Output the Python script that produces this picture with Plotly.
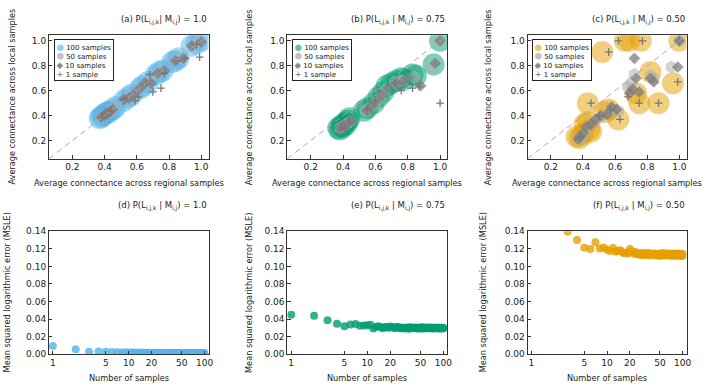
import plotly.graph_objects as go

W, H = 709, 390
FONT = "DejaVu Sans"
TXT = "#222222"

# ---------------- data: top row (local vs regional connectance) ----------------
a100_x = [0.37, 0.38, 0.39, 0.40, 0.41, 0.42, 0.43, 0.45, 0.47, 0.52, 0.55, 0.57, 0.62, 0.64, 0.67, 0.72, 0.74, 0.76, 0.82, 0.84, 0.86, 0.94, 0.97, 1.00]
a100_y = [0.38, 0.39, 0.40, 0.41, 0.42, 0.43, 0.43, 0.45, 0.47, 0.52, 0.55, 0.57, 0.62, 0.64, 0.67, 0.73, 0.75, 0.76, 0.83, 0.84, 0.86, 0.96, 0.98, 1.00]
a50_x = [0.38, 0.40, 0.42, 0.44, 0.46, 0.53, 0.56, 0.61, 0.65, 0.68, 0.73, 0.76, 0.83, 0.86, 0.95, 0.99]
a50_y = [0.39, 0.40, 0.42, 0.44, 0.46, 0.53, 0.56, 0.61, 0.65, 0.67, 0.74, 0.76, 0.84, 0.86, 0.96, 1.00]
a10_x = [0.38, 0.40, 0.41, 0.43, 0.45, 0.52, 0.55, 0.58, 0.62, 0.65, 0.69, 0.73, 0.77, 0.84, 0.89, 0.94, 1.00]
a10_y = [0.39, 0.40, 0.42, 0.43, 0.45, 0.53, 0.54, 0.57, 0.62, 0.66, 0.66, 0.74, 0.76, 0.84, 0.86, 0.96, 0.99]
a1_x = [0.38, 0.40, 0.42, 0.44, 0.52, 0.59, 0.61, 0.66, 0.68, 0.70, 0.75, 0.77, 0.85, 0.90, 0.97, 0.99]
a1_y = [0.38, 0.41, 0.40, 0.44, 0.53, 0.52, 0.55, 0.66, 0.73, 0.59, 0.62, 0.74, 0.84, 0.86, 0.97, 0.87]

b100_x = [0.37, 0.38, 0.39, 0.40, 0.41, 0.42, 0.43, 0.44, 0.53, 0.55, 0.59, 0.62, 0.65, 0.67, 0.70, 0.73, 0.76, 0.78, 0.83, 0.85, 0.96, 1.00]
b100_y = [0.30, 0.29, 0.32, 0.31, 0.34, 0.33, 0.36, 0.38, 0.44, 0.46, 0.50, 0.55, 0.59, 0.64, 0.66, 0.68, 0.70, 0.69, 0.73, 0.72, 0.81, 1.00]
b50_x = [0.38, 0.40, 0.42, 0.44, 0.54, 0.56, 0.60, 0.63, 0.66, 0.72, 0.75, 0.77, 0.84, 0.95, 1.00]
b50_y = [0.30, 0.31, 0.33, 0.35, 0.44, 0.46, 0.50, 0.54, 0.60, 0.66, 0.68, 0.68, 0.71, 0.78, 1.00]
b10_x = [0.38, 0.40, 0.41, 0.43, 0.45, 0.55, 0.57, 0.60, 0.64, 0.68, 0.73, 0.77, 0.80, 0.88, 0.97, 1.00]
b10_y = [0.30, 0.32, 0.30, 0.34, 0.36, 0.44, 0.47, 0.51, 0.56, 0.62, 0.66, 0.67, 0.70, 0.64, 0.82, 1.00]
b1_x = [0.39, 0.41, 0.44, 0.55, 0.60, 0.62, 0.72, 0.76, 0.83, 0.87, 1.00]
b1_y = [0.31, 0.30, 0.35, 0.45, 0.52, 0.60, 0.66, 0.60, 0.62, 0.63, 0.50]

c100_x = [0.36, 0.38, 0.40, 0.41, 0.43, 0.44, 0.45, 0.43, 0.52, 0.54, 0.56, 0.62, 0.66, 0.69, 0.76, 0.73, 0.75, 0.82, 0.87, 0.96, 1.00]
c100_y = [0.23, 0.22, 0.25, 0.33, 0.35, 0.29, 0.27, 0.50, 0.91, 0.43, 0.45, 0.37, 1.00, 1.00, 1.00, 0.58, 0.50, 0.75, 0.50, 0.66, 1.00]
c50_x = [0.37, 0.39, 0.41, 0.43, 0.47, 0.50, 0.55, 0.58, 0.62, 0.68, 0.70, 0.72, 0.82, 0.84, 0.95, 1.00]
c50_y = [0.22, 0.21, 0.26, 0.30, 0.36, 0.38, 0.42, 0.44, 0.44, 0.63, 0.66, 0.73, 0.72, 0.70, 0.79, 1.00]
c10_x = [0.37, 0.38, 0.40, 0.42, 0.45, 0.48, 0.51, 0.55, 0.58, 0.61, 0.69, 0.71, 0.72, 0.73, 0.75, 0.82, 0.84, 0.99, 1.00]
c10_y = [0.21, 0.23, 0.26, 0.31, 0.33, 0.37, 0.40, 0.41, 0.47, 0.45, 0.58, 0.61, 0.86, 0.70, 0.59, 0.70, 0.67, 0.79, 1.00]
c1_x = [0.39, 0.45, 0.50, 0.56, 0.57, 0.62, 0.63, 0.68, 0.75, 0.77, 0.87, 0.99, 1.00]
c1_y = [0.23, 0.50, 0.40, 0.91, 0.45, 1.00, 0.37, 0.55, 0.50, 1.00, 0.50, 0.67, 1.00]

conn_range = [0.055, 1.045]
conn_ticks = [0.2, 0.4, 0.6, 0.8, 1.0]
conn_ticktext = ["0.2", "0.4", "0.6", "0.8", "1.0"]

# ---------------- data: bottom row (MSLE vs number of samples) ----------------
n_samples = list(range(1, 101))
msle_d = [0.0092, 0.0055, 0.0026, 0.0030, 0.0027, 0.0023, 0.0021, 0.0019, 0.0020, 0.0018,
          0.0017, 0.0018, 0.0016, 0.0017, 0.0015, 0.0016, 0.0015, 0.0016, 0.0014, 0.0015,
          0.0015, 0.0014, 0.0015, 0.0014, 0.0013, 0.0014, 0.0014, 0.0013, 0.0014, 0.0013,
          0.0013, 0.0014, 0.0013, 0.0012, 0.0013, 0.0013, 0.0012, 0.0013, 0.0012, 0.0013,
          0.0012, 0.0012, 0.0013, 0.0012, 0.0012, 0.0011, 0.0012, 0.0012, 0.0011, 0.0012,
          0.0012, 0.0011, 0.0012, 0.0011, 0.0011, 0.0012, 0.0011, 0.0011, 0.0012, 0.0011,
          0.0011, 0.0011, 0.0010, 0.0011, 0.0011, 0.0010, 0.0011, 0.0011, 0.0010, 0.0011,
          0.0010, 0.0011, 0.0010, 0.0010, 0.0011, 0.0010, 0.0010, 0.0011, 0.0010, 0.0010,
          0.0010, 0.0010, 0.0011, 0.0010, 0.0010, 0.0009, 0.0010, 0.0010, 0.0010, 0.0009,
          0.0010, 0.0010, 0.0009, 0.0010, 0.0009, 0.0010, 0.0009, 0.0010, 0.0009, 0.0009]
msle_e = [0.0450, 0.0437, 0.0385, 0.0345, 0.0318, 0.0338, 0.0342, 0.0322, 0.0325, 0.0330,
          0.0336, 0.0292, 0.0312, 0.0318, 0.0305, 0.0296, 0.0310, 0.0306, 0.0302, 0.0314,
          0.0310, 0.0303, 0.0298, 0.0306, 0.0311, 0.0300, 0.0296, 0.0304, 0.0299, 0.0293,
          0.0301, 0.0295, 0.0304, 0.0298, 0.0290, 0.0300, 0.0305, 0.0296, 0.0299, 0.0302,
          0.0294, 0.0298, 0.0303, 0.0297, 0.0291, 0.0300, 0.0296, 0.0302, 0.0298, 0.0293,
          0.0300, 0.0306, 0.0297, 0.0292, 0.0301, 0.0298, 0.0295, 0.0303, 0.0299, 0.0296,
          0.0302, 0.0297, 0.0300, 0.0294, 0.0298, 0.0303, 0.0296, 0.0299, 0.0301, 0.0295,
          0.0298, 0.0302, 0.0296, 0.0293, 0.0300, 0.0297, 0.0301, 0.0295, 0.0299, 0.0302,
          0.0296, 0.0298, 0.0294, 0.0300, 0.0297, 0.0302, 0.0295, 0.0299, 0.0296, 0.0301,
          0.0297, 0.0293, 0.0299, 0.0302, 0.0296, 0.0298, 0.0294, 0.0300, 0.0297, 0.0295]
msle_f = [0.1900, 0.1520, 0.1395, 0.1300, 0.1212, 0.1200, 0.1275, 0.1205, 0.1215, 0.1190,
          0.1175, 0.1210, 0.1168, 0.1180, 0.1185, 0.1160, 0.1150, 0.1158, 0.1148, 0.1200,
          0.1172, 0.1160, 0.1145, 0.1165, 0.1138, 0.1150, 0.1142, 0.1128, 0.1155, 0.1140,
          0.1135, 0.1148, 0.1130, 0.1152, 0.1140, 0.1125, 0.1150, 0.1138, 0.1145, 0.1132,
          0.1140, 0.1128, 0.1148, 0.1135, 0.1142, 0.1130, 0.1125, 0.1138, 0.1145, 0.1120,
          0.1135, 0.1148, 0.1130, 0.1140, 0.1152, 0.1128, 0.1136, 0.1143, 0.1125, 0.1148,
          0.1138, 0.1130, 0.1145, 0.1133, 0.1127, 0.1140, 0.1148, 0.1132, 0.1122, 0.1138,
          0.1143, 0.1130, 0.1128, 0.1145, 0.1136, 0.1120, 0.1140, 0.1133, 0.1147, 0.1126,
          0.1135, 0.1142, 0.1128, 0.1138, 0.1124, 0.1146, 0.1131, 0.1139, 0.1122, 0.1136,
          0.1142, 0.1127, 0.1134, 0.1145, 0.1121, 0.1137, 0.1130, 0.1143, 0.1118, 0.1135]
msle_range = [0, 0.14]
msle_ticks = [0.00, 0.02, 0.04, 0.06, 0.08, 0.10, 0.12, 0.14]
sample_ticks = [1, 5, 10, 20, 50, 100]
sample_ticktext = ["1", "5", "10", "20", "50", "100"]

panel_titles = [
    "(a) P(L<sub>i,j,k</sub>| M<sub>i,j</sub>) = 1.0",
    "(b) P(L<sub>i,j,k</sub> | M<sub>i,j</sub>) = 0.75",
    "(c) P(L<sub>i,j,k</sub> | M<sub>i,j</sub>) = 0.50",
    "(d) P(L<sub>i,j,k</sub> | M<sub>i,j</sub>) = 1.0",
    "(e) P(L<sub>i,j,k</sub> | M<sub>i,j</sub>) = 0.75",
    "(f) P(L<sub>i,j,k</sub> | M<sub>i,j</sub>) = 0.50",
]
legend_labels = ["100 samples", "50 samples", "10 samples", "1 sample"]
colors = ["#56B4E9", "#009E73", "#E69F00"]
colors_a = ["rgba(86,180,233,0.5)", "rgba(0,158,115,0.5)", "rgba(230,159,0,0.5)"]

# ---------------- layout geometry (pixels) ----------------
cols_px = [(49.3, 210.0), (289.3, 450.5), (531.3, 691.5)]
rows_px = [(31.0, 157.7), (232.3, 358.3)]


def fx(px):
    return px / W


def fy(py):
    return 1 - py / H


fig = go.Figure()

top_sets = [
    (a100_x, a100_y, a50_x, a50_y, a10_x, a10_y, a1_x, a1_y),
    (b100_x, b100_y, b50_x, b50_y, b10_x, b10_y, b1_x, b1_y),
    (c100_x, c100_y, c50_x, c50_y, c10_x, c10_y, c1_x, c1_y),
]

for i, s in enumerate(top_sets):
    xa = "x" if i == 0 else f"x{i+1}"
    ya = "y" if i == 0 else f"y{i+1}"
    x100, y100, x50, y50, x10, y10, x1, y1 = s
    fig.add_trace(go.Scatter(x=x100, y=y100, mode="markers", xaxis=xa, yaxis=ya, showlegend=False,
                             marker=dict(size=22, color=colors_a[i], line=dict(width=0))))
    fig.add_trace(go.Scatter(x=x50, y=y50, mode="markers", xaxis=xa, yaxis=ya, showlegend=False,
                             marker=dict(size=13, symbol="hexagon", color="rgba(175,175,175,0.55)", line=dict(width=0))))
    fig.add_trace(go.Scatter(x=x10, y=y10, mode="markers", xaxis=xa, yaxis=ya, showlegend=False,
                             marker=dict(size=9, symbol="diamond", color="rgba(125,125,125,0.75)", line=dict(width=0))))
    fig.add_trace(go.Scatter(x=x1, y=y1, mode="markers", xaxis=xa, yaxis=ya, showlegend=False,
                             marker=dict(size=5.5, symbol="cross-thin", color="#777777",
                                         line=dict(width=1.3, color="#777777"))))
    # identity reference line spanning the axis range
    fig.add_trace(go.Scatter(x=conn_range, y=conn_range, mode="lines", xaxis=xa, yaxis=ya, showlegend=False,
                             line=dict(color="#aaaaaa", width=1, dash="6px,4px")))

bottom_sets = [msle_d, msle_e, msle_f]
for i, vals in enumerate(bottom_sets):
    fig.add_trace(go.Scatter(x=n_samples, y=vals, mode="markers", xaxis=f"x{i+4}", yaxis=f"y{i+4}",
                             showlegend=False,
                             marker=dict(size=8, color=colors[i], opacity=0.8, line=dict(width=0))))

axis_common = dict(showline=True, mirror=True, linecolor="#333333", linewidth=1,
                   ticks="inside", ticklen=3.5, tickwidth=1, tickcolor="#333333",
                   showgrid=False, zeroline=False,
                   tickfont=dict(family=FONT, size=9, color=TXT))

layout = dict(width=W, height=H, autosize=False,
              margin=dict(l=0, r=0, t=0, b=0),
              paper_bgcolor="white", plot_bgcolor="white",
              font=dict(family=FONT, color=TXT))

for i in range(3):
    c0, c1 = cols_px[i]
    xk = "xaxis" if i == 0 else f"xaxis{i+1}"
    yk = "yaxis" if i == 0 else f"yaxis{i+1}"
    ya_id = "y" if i == 0 else f"y{i+1}"
    xa_id = "x" if i == 0 else f"x{i+1}"
    layout[xk] = dict(axis_common, domain=[fx(c0), fx(c1)], range=conn_range, anchor=ya_id,
                      tickvals=conn_ticks, ticktext=conn_ticktext)
    layout[yk] = dict(axis_common, domain=[fy(rows_px[0][1]), fy(rows_px[0][0])], range=conn_range,
                      anchor=xa_id, tickvals=conn_ticks, ticktext=conn_ticktext)
    layout[f"xaxis{i+4}"] = dict(axis_common, type="log", domain=[fx(c0), fx(c1)], range=[-0.052, 2.052],
                                 anchor=f"y{i+4}", tickvals=sample_ticks, ticktext=sample_ticktext)
    layout[f"yaxis{i+4}"] = dict(axis_common, domain=[fy(rows_px[1][1]), fy(rows_px[1][0])], range=msle_range,
                                 anchor=f"x{i+4}", tickvals=msle_ticks, tickformat=".2f")

annotations = []
title_y = [15, 206]
xtitle_y = [183, 383]
ytitle_x = [[11.7, 251, 491.7], [6.7, 250, 486]]
for r in range(2):
    for i in range(3):
        c0, c1 = cols_px[i]
        r0, r1 = rows_px[r]
        annotations.append(dict(text=panel_titles[r * 3 + i], x=fx(c1), y=fy(title_y[r]), xref="paper",
                                yref="paper", xanchor="right", yanchor="middle", showarrow=False,
                                font=dict(family=FONT, size=8.5, color=TXT)))
        annotations.append(dict(text=("Average connectance across regional samples" if r == 0 else "Number of samples"),
                                x=fx((c0 + c1) / 2), y=fy(xtitle_y[r]), xref="paper", yref="paper",
                                xanchor="center", yanchor="middle", showarrow=False,
                                font=dict(family=FONT, size=8.2, color=TXT)))
        annotations.append(dict(text=("Average connectance across local samples" if r == 0 else
                                      "Mean squared logarithmic error (MSLE)"),
                                x=fx(ytitle_x[r][i]), y=fy((r0 + r1) / 2), xref="paper", yref="paper",
                                xanchor="center", yanchor="middle", textangle=-90, showarrow=False,
                                font=dict(family=FONT, size=8.2, color=TXT)))

# legends (top row)
glyphs = [("●", None), ("⬢", "rgba(175,175,175,0.8)"), ("◆", "rgba(125,125,125,0.9)"), ("+", "#777777")]
for i in range(3):
    c0, c1 = cols_px[i]
    lines = []
    for (g, gc), lab in zip(glyphs, legend_labels):
        col = gc if gc else colors_a[i].replace("0.5)", "0.65)")
        lines.append(f"<span style='color:{col};font-size:8.5px'>{g}</span> {lab}")
    annotations.append(dict(text="<br>".join(lines), x=fx(c0 + 4.7), y=fy(rows_px[0][0] + 4),
                            xref="paper", yref="paper", xanchor="left", yanchor="top", align="left",
                            showarrow=False, bgcolor="white", bordercolor="#222222", borderwidth=1,
                            borderpad=1.5, font=dict(family=FONT, size=7, color=TXT)))

layout["annotations"] = annotations
fig.update_layout(**layout)
fig.write_html("out.html", config={"displayModeBar": False},
               post_script="document.body.style.margin='0';document.body.style.overflow='hidden';")
